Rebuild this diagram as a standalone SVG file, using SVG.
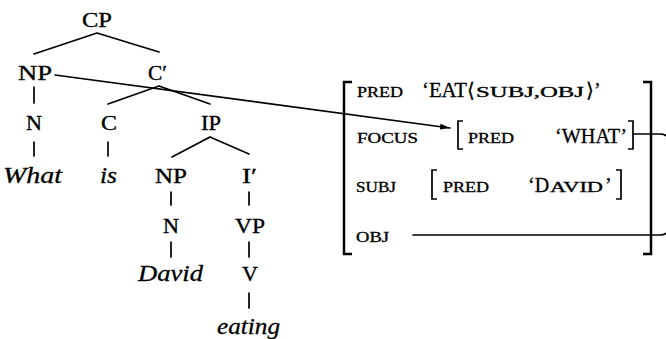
<svg xmlns="http://www.w3.org/2000/svg" width="666" height="339" viewBox="0 0 666 339">
<defs>
<style>
.t{font-family:"Liberation Serif","Times New Roman",serif;font-size:22px;fill:#000;stroke:#000;stroke-width:0.35}
.i{font-family:"Liberation Serif","Times New Roman",serif;font-style:italic;font-size:23px;fill:#000;stroke:#000;stroke-width:0.3}
.a{font-family:"Liberation Serif","Times New Roman",serif;font-size:15.5px;fill:#000;stroke:#000;stroke-width:0.35}
.v{font-family:"Liberation Serif","Times New Roman",serif;font-size:20px;fill:#000;stroke:#000;stroke-width:0.3}
.e{stroke:#000;stroke-width:1.7;fill:none;stroke-linecap:round}
.b{stroke:#000;stroke-width:2.5;fill:none}
.sb{stroke:#000;stroke-width:1.7;fill:none}
</style>
<marker id="ah" viewBox="0 0 10 6" refX="10" refY="3" markerWidth="10" markerHeight="6" markerUnits="userSpaceOnUse" orient="auto">
<path d="M0,0 L10,3 L0,6 z" fill="#000"/>
</marker>
</defs>
<rect width="666" height="339" fill="#fff"/>

<g id="edges">
<path class="e" d="M97,33 L34,54 M97,33 L159,52"/>
<path class="e" d="M34,87 V103 M34,142 V156"/>
<path class="e" d="M159,86 L108,104 M159,86 L210,104"/>
<path class="e" d="M108,142 V156"/>
<path class="e" d="M210,137 L172,157 M210,137 L249,154"/>
<path class="e" d="M171,192 V205 M171,242 V257"/>
<path class="e" d="M249,192 V205 M249,242 V257 M249,293 V308"/>
<path class="e" d="M55,75 L450,128" marker-end="url(#ah)"/>
<path class="e" d="M633,134 H660 Q668,134 670,142 V227 Q668,235 660,235 H413"/>
</g>

<g id="tree">
<g id="n-cp"><text class="t" x="82" y="27" textLength="30" lengthAdjust="spacingAndGlyphs">CP</text></g>
<g id="n-np1"><text class="t" x="18" y="80" textLength="34" lengthAdjust="spacingAndGlyphs">NP</text></g>
<g id="n-cbar"><text class="t" x="148" y="80" textLength="19" lengthAdjust="spacingAndGlyphs">C′</text></g>
<g id="n-n1"><text class="t" x="26" y="130" textLength="16" lengthAdjust="spacingAndGlyphs">N</text></g>
<g id="n-c"><text class="t" x="101" y="130" textLength="16" lengthAdjust="spacingAndGlyphs">C</text></g>
<g id="n-ip"><text class="t" x="201" y="130" textLength="20" lengthAdjust="spacingAndGlyphs">IP</text></g>
<g id="n-what"><text class="i" x="3" y="183" textLength="59" lengthAdjust="spacingAndGlyphs">What</text></g>
<g id="n-is"><text class="i" x="100" y="183" textLength="17" lengthAdjust="spacingAndGlyphs">is</text></g>
<g id="n-np2"><text class="t" x="155" y="183" textLength="32" lengthAdjust="spacingAndGlyphs">NP</text></g>
<g id="n-ibar"><text class="t" x="242" y="183" textLength="15" lengthAdjust="spacingAndGlyphs">I′</text></g>
<g id="n-n2"><text class="t" x="163" y="233" textLength="16" lengthAdjust="spacingAndGlyphs">N</text></g>
<g id="n-vp"><text class="t" x="235" y="233" textLength="30" lengthAdjust="spacingAndGlyphs">VP</text></g>
<g id="n-david"><text class="i" x="138" y="281" textLength="65" lengthAdjust="spacingAndGlyphs">David</text></g>
<g id="n-v"><text class="t" x="242" y="281" textLength="16" lengthAdjust="spacingAndGlyphs">V</text></g>
<g id="n-eating"><text class="i" x="217" y="334" textLength="63" lengthAdjust="spacingAndGlyphs">eating</text></g>
</g>

<g id="fstructure">
<path class="b" d="M352,82 H344 V254 H352"/>
<path class="b" d="M643,82 H651 V254 H643"/>
<text class="a" x="357" y="97" textLength="46" lengthAdjust="spacingAndGlyphs">PRED</text>
<text class="v" x="422" y="97" textLength="45" lengthAdjust="spacingAndGlyphs">‘EAT</text>
<text class="v" x="467" y="97">⟨</text>
<text class="a" x="476" y="97" textLength="108" lengthAdjust="spacingAndGlyphs">SUBJ,OBJ</text>
<text class="v" x="586" y="97">⟩’</text>
<text class="a" x="357" y="143" textLength="61" lengthAdjust="spacingAndGlyphs">FOCUS</text>
<text class="a" x="356" y="192" textLength="40" lengthAdjust="spacingAndGlyphs">SUBJ</text>
<text class="a" x="356" y="242" textLength="33" lengthAdjust="spacingAndGlyphs">OBJ</text>
<g id="n-focusval">
<path class="sb" d="M463,121 H458 V149 H463 M628,121 H633 V149 H628"/>
<text class="a" x="468" y="143" textLength="46" lengthAdjust="spacingAndGlyphs">PRED</text>
<text class="v" x="555" y="143" textLength="72" lengthAdjust="spacingAndGlyphs">‘WHAT’</text>
</g>
<g id="n-subjval">
<path class="sb" d="M437,170 H432 V199 H437 M616,170 H621 V199 H616"/>
<text class="a" x="443" y="192" textLength="46" lengthAdjust="spacingAndGlyphs">PRED</text>
<text class="v" x="528" y="192">‘D</text>
<text class="a" x="550" y="192" textLength="53" lengthAdjust="spacingAndGlyphs">AVID</text>
<text class="v" x="605" y="192">’</text>
</g>
</g>
</svg>
